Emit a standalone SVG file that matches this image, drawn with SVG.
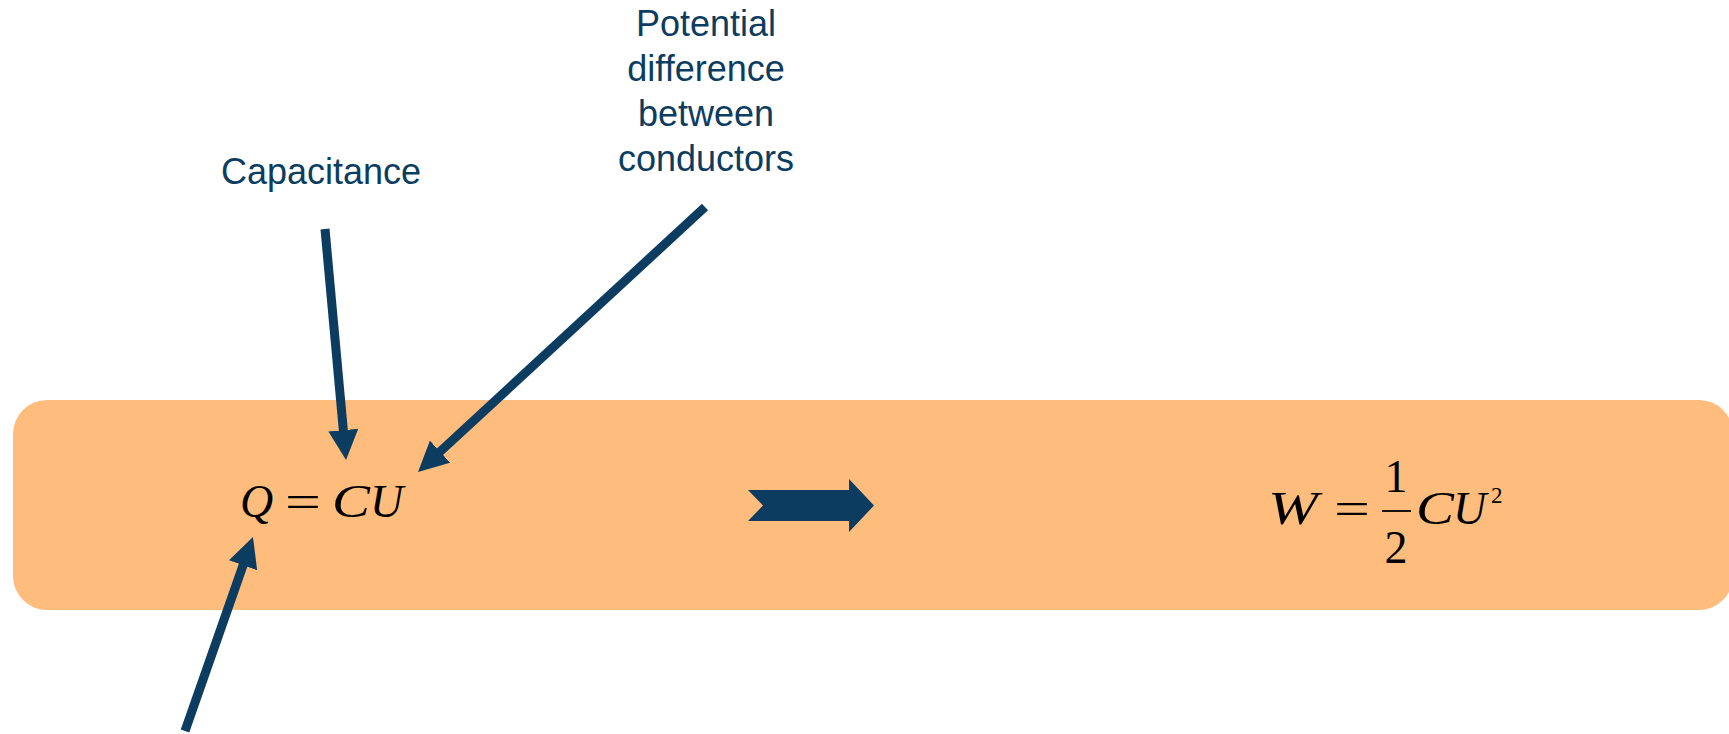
<svg xmlns="http://www.w3.org/2000/svg" width="1729" height="734" viewBox="0 0 1729 734">
<style>
.lbl{font-family:"Liberation Sans",Arial,sans-serif;font-size:36px;fill:#0C3C60;text-anchor:middle}
.mi{font-family:"Liberation Serif","Times New Roman",serif;font-style:italic;font-size:46px;fill:#000}
.mr{font-family:"Liberation Serif","Times New Roman",serif;font-size:46px;fill:#000}
.conn{stroke:#0C3C60;stroke-width:9;fill:none;marker-end:url(#ah)}
</style>
<defs>
<marker id="ah" markerUnits="userSpaceOnUse" viewBox="0 0 30 30" markerWidth="30" markerHeight="30" refX="2" refY="15" orient="auto">
<path d="M0,0 L30,15 L0,30 z" fill="#0C3C60"/>
</marker>
</defs>
<rect width="1729" height="734" fill="#fff"/>
<g id="band">
<rect x="13" y="400" width="1720" height="210" rx="34" ry="34" fill="#FFBD7D"/>
</g>
<g id="label-capacitance">
<text class="lbl" x="321" y="184">Capacitance</text>
</g>
<g id="label-potential">
<text class="lbl" x="706" y="36">Potential</text>
<text class="lbl" x="706" y="81">difference</text>
<text class="lbl" x="706" y="126">between</text>
<text class="lbl" x="706" y="171">conductors</text>
</g>
<g id="eq-q">
<text class="mi" x="240" y="517">Q</text>
<text class="mr" x="285" y="517" textLength="36" lengthAdjust="spacingAndGlyphs">=</text>
<text class="mi" x="332" y="517" textLength="38" lengthAdjust="spacingAndGlyphs">C</text>
<text class="mi" x="370" y="517">U</text>
</g>
<g id="block-arrow">
<polygon points="748,490 849,490 849,479 874,505.5 849,532 849,521 748,521 763,505.5" fill="#0C3C60"/>
</g>
<g id="eq-w">
<text class="mi" x="1268" y="524" textLength="50" lengthAdjust="spacingAndGlyphs">W</text>
<text class="mr" x="1334" y="524" textLength="36" lengthAdjust="spacingAndGlyphs">=</text>
<text class="mr" x="1396" y="492" text-anchor="middle">1</text>
<line x1="1382" y1="511" x2="1411" y2="511" stroke="#000" stroke-width="1.8"/>
<text class="mr" x="1396" y="563" text-anchor="middle">2</text>
<text class="mi" x="1416" y="524" textLength="38" lengthAdjust="spacingAndGlyphs">C</text>
<text class="mi" x="1453" y="524">U</text>
<text class="mr" x="1491" y="503" style="font-size:23px">2</text>
</g>
<g id="connectors">
<line class="conn" x1="325" y1="229" x2="343.5" y2="432.1"/>
<line class="conn" x1="705" y1="207" x2="438.6" y2="453"/>
<line class="conn" x1="185" y1="731" x2="243.7" y2="563.4"/>
</g>
</svg>
